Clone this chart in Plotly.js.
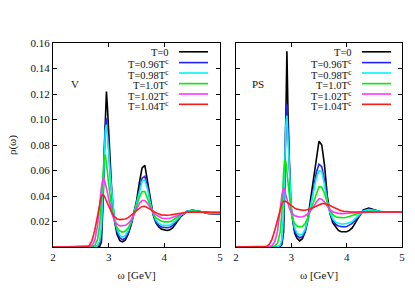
<!DOCTYPE html>
<html>
<head>
<meta charset="utf-8">
<script src="https://cdn.plot.ly/plotly-3.0.1.min.js"></script>
<style>html,body{margin:0;padding:0;background:#fff;}#chart{width:415px;height:291px;}</style>
</head>
<body>
<div id="chart"></div>
<script>
// Series labels and colours
const seriesNames = ["T=0", "T=0.96T<sup>c</sup>", "T=0.98T<sup>c</sup>", "T=1.0T<sup>c</sup>", "T=1.02T<sup>c</sup>", "T=1.04T<sup>c</sup>"];
const seriesColors = ["#000000", "#2222ff", "#00f4f4", "#00ee00", "#ff33ff", "#ff1a1a"];

// Vector channel (left panel)
const omegaV = [2.0,2.5,2.6,2.65,2.7,2.75,2.8,
  2.84,2.87,2.9,2.92,2.94,2.96,2.98,
  3.0,3.03,3.06,3.1,
  3.15,3.2,3.25,3.3,3.35,3.4,3.45,3.5,3.55,3.6,3.65,3.7,3.75,3.8,3.85,3.9,3.95,4.0,4.05,4.1,4.15,4.2,
  4.3,4.4,4.5,4.6,4.7,4.8,5.0];
const rhoV_T0 = [0,0,0,0,0,0,0,
  0.0005,0.004,0.035,0.075,0.110,0.122,0.108,
  0.088,0.060,0.040,0.022,
  0.010,0.005,0.004,0.0055,0.010,0.017,0.026,0.036,0.050,0.062,0.064,0.051,0.035,0.025,0.019,0.0158,0.014,0.0132,0.013,0.0135,0.015,0.018,
  0.024,0.0278,0.0288,0.0282,0.027,0.0262,0.026];
const rhoV_T096 = [0,0,0,0,0,0,0.0005,
  0.003,0.012,0.042,0.072,0.095,0.101,0.092,
  0.077,0.055,0.038,0.022,
  0.012,0.0072,0.0057,0.007,0.011,0.017,0.025,0.034,0.045,0.054,0.0555,0.047,0.035,0.026,0.020,0.017,0.0157,0.0152,0.0151,0.0155,0.017,0.0195,
  0.0245,0.0278,0.0287,0.0282,0.0272,0.0265,0.0262];
const rhoV_T098 = [0,0,0,0,0,0,0.001,
  0.005,0.016,0.046,0.073,0.091,0.096,0.088,
  0.075,0.055,0.039,0.024,
  0.014,0.0093,0.0078,0.009,0.013,0.019,0.026,0.034,0.044,0.0515,0.0525,0.045,0.034,0.026,0.021,0.0185,0.0173,0.0169,0.0168,0.0172,0.0185,0.0205,
  0.025,0.0278,0.0285,0.028,0.0272,0.0266,0.0263];
const rhoV_T100 = [0,0,0,0,0,0.001,0.006,
  0.018,0.037,0.061,0.071,0.0725,0.067,0.058,
  0.049,0.038,0.029,0.021,
  0.015,0.0125,0.0117,0.0125,0.015,0.019,0.025,0.032,0.039,0.0435,0.0435,0.038,0.031,0.026,0.023,0.0213,0.0202,0.0197,0.0196,0.0199,0.021,0.0225,
  0.0255,0.0275,0.0282,0.028,0.0274,0.027,0.0268];
const rhoV_T102 = [0,0,0,0,0.001,0.005,0.017,
  0.033,0.047,0.0535,0.053,0.050,0.046,0.041,
  0.037,0.031,0.026,0.021,
  0.018,0.0166,0.0165,0.017,0.0185,0.021,0.025,0.029,0.034,0.0365,0.0365,0.034,0.030,0.027,0.0252,0.0238,0.0228,0.0224,0.0223,0.0226,0.0233,0.0242,
  0.026,0.0272,0.0278,0.0278,0.0275,0.0272,0.027];
const rhoV_T104 = [0,0,0,0.001,0.005,0.013,0.025,
  0.035,0.040,0.041,0.040,0.038,0.036,0.034,
  0.032,0.029,0.0265,0.024,
  0.022,0.0215,0.0215,0.022,0.023,0.0245,0.0265,0.0285,0.0305,0.0318,0.032,0.031,0.0295,0.028,0.0268,0.0258,0.0252,0.0249,0.0249,0.0251,0.0255,0.026,
  0.0267,0.0272,0.0274,0.0274,0.0274,0.0273,0.0272];

// Pseudoscalar channel (right panel)
const omegaPS = [2.0,2.5,2.55,2.6,2.65,2.7,2.75,2.8,
  2.83,2.86,2.88,2.9,2.92,2.94,2.96,2.98,
  3.0,3.03,3.06,3.1,
  3.15,3.2,3.25,3.3,3.35,3.4,3.45,3.5,3.55,3.6,3.65,3.7,3.75,3.8,3.85,3.9,3.95,4.0,4.05,4.1,
  4.2,4.3,4.4,4.5,4.6,4.7,4.8,5.0];
const rhoPS_T0 = [0,0,0,0,0,0,0,0.0003,
  0.002,0.012,0.045,0.110,0.1535,0.105,0.068,0.043,
  0.030,0.018,0.011,0.007,
  0.0048,0.0065,0.012,0.023,0.038,0.055,0.072,0.083,0.080,0.064,0.040,0.026,0.019,0.0155,0.013,0.012,0.0118,0.012,0.013,0.015,
  0.022,0.029,0.0305,0.029,0.0278,0.0275,0.0275,0.0275];
const rhoPS_T096 = [0,0,0,0,0,0,0,0.0008,
  0.004,0.022,0.060,0.100,0.112,0.088,0.062,0.042,
  0.029,0.019,0.013,0.009,
  0.0072,0.008,0.012,0.021,0.032,0.045,0.058,0.065,0.063,0.052,0.037,0.027,0.021,0.0178,0.0165,0.0158,0.0157,0.016,0.017,0.0185,
  0.023,0.0285,0.0298,0.0288,0.0278,0.0275,0.0275,0.0275];
const rhoPS_T098 = [0,0,0,0,0,0,0,0.0015,
  0.006,0.027,0.063,0.095,0.103,0.083,0.060,0.042,
  0.030,0.021,0.015,0.011,
  0.0095,0.010,0.014,0.022,0.032,0.043,0.054,0.060,0.059,0.049,0.036,0.027,0.022,0.0195,0.0185,0.018,0.018,0.0183,0.019,0.020,
  0.024,0.0283,0.0293,0.0285,0.0278,0.0275,0.0275,0.0275];
const rhoPS_T100 = [0,0,0,0,0,0.0007,0.003,0.012,
  0.028,0.058,0.069,0.067,0.058,0.047,0.038,0.031,
  0.026,0.021,0.0185,0.0165,
  0.0157,0.016,0.0185,0.023,0.029,0.036,0.0425,0.0472,0.047,0.042,0.035,0.029,0.0255,0.0238,0.0232,0.023,0.023,0.0233,0.024,0.0245,
  0.026,0.0275,0.028,0.0278,0.0276,0.0275,0.0275,0.0275];
const rhoPS_T102 = [0,0,0,0.0003,0.001,0.004,0.012,0.030,
  0.041,0.0465,0.045,0.041,0.037,0.0335,0.031,0.029,
  0.0272,0.0255,0.0245,0.0238,
  0.0235,0.0237,0.0245,0.026,0.0285,0.0315,0.0352,0.0378,0.0375,0.0355,0.032,0.0293,0.0277,0.0268,0.0264,0.0262,0.0262,0.0263,0.0265,0.0267,
  0.027,0.0273,0.0275,0.0275,0.0275,0.0275,0.0275,0.0275];
const rhoPS_T104 = [0,0,0.0005,0.002,0.006,0.013,0.022,0.030,
  0.034,0.0358,0.036,0.0358,0.0352,0.0345,0.0337,0.033,
  0.0322,0.0313,0.0305,0.0297,
  0.0291,0.0288,0.0288,0.0292,0.030,0.031,0.0322,0.0333,0.034,0.034,0.0335,0.0325,0.0313,0.0302,0.0293,0.0285,0.028,0.0277,0.0275,0.0275,
  0.0275,0.0275,0.0275,0.0275,0.0275,0.0275,0.0275,0.0275];

// Axis ticks
const yTickVals = [0.02,0.04,0.06,0.08,0.10,0.12,0.14,0.16];
const yTickText = ["0.02","0.04","0.06","0.08","0.10","0.12","0.14","0.16"];
const xTickVals = [2,3,4,5];
const panelLabels = ["V","PS"];

const seriesV = [rhoV_T0, rhoV_T096, rhoV_T098, rhoV_T100, rhoV_T102, rhoV_T104];
const seriesPS = [rhoPS_T0, rhoPS_T096, rhoPS_T098, rhoPS_T100, rhoPS_T102, rhoPS_T104];

const FONT = "Liberation Serif, Times New Roman, serif";
const traces = [];
seriesV.forEach((ys, i) => traces.push({
  x: omegaV, y: ys, type: "scatter", mode: "lines", name: seriesNames[i],
  line: {color: seriesColors[i], width: 1.6}, xaxis: "x", yaxis: "y", showlegend: false
}));
seriesPS.forEach((ys, i) => traces.push({
  x: omegaPS, y: ys, type: "scatter", mode: "lines", name: seriesNames[i],
  line: {color: seriesColors[i], width: 1.6}, xaxis: "x2", yaxis: "y2", showlegend: false
}));

// geometry (pixels)
const W = 415, H = 291;
const mL = 53, mR = 13, mT = 43, mB = 44;
const pw = W - mL - mR, ph = H - mT - mB;
const leftPanel = [53, 220], rightPanel = [236, 402];
const dom = p => [(p[0]-mL)/pw, (p[1]-mL)/pw];

const axisCommon = {
  showline: true, linecolor: "#000", linewidth: 1, mirror: "ticks",
  ticks: "inside", ticklen: 4, tickcolor: "#000", tickwidth: 1,
  showgrid: false, zeroline: false,
  tickfont: {family: FONT, size: 11, color: "#111"}
};
const xAxisBase = Object.assign({}, axisCommon, {
  range: [2,5], tickvals: xTickVals, ticktext: xTickVals.map(String),
  title: {text: "ω [GeV]", font: {family: FONT, size: 11, color: "#111"}, standoff: 9}
});

// legend (drawn as annotations + short line samples in paper space)
const annotations = [], shapes = [];
const rowY = [51.8, 62.6, 73.0, 83.6, 94.0, 104.3];
[leftPanel, rightPanel].forEach((p, k) => {
  const px = v => (v - mL) / pw;
  const py = v => 1 - (v - mT) / ph;
  seriesNames.forEach((nm, i) => {
    annotations.push({xref: "paper", yref: "paper", x: px(p[0] + 118), y: py(rowY[i] + 1),
      text: nm, showarrow: false, xanchor: "right", yanchor: "middle",
      font: {family: FONT, size: 10.5, color: "#111"}});
    shapes.push({type: "line", xref: "paper", yref: "paper",
      x0: px(p[0] + 126), x1: px(p[0] + 155), y0: py(rowY[i]), y1: py(rowY[i]),
      line: {color: seriesColors[i], width: 1.6}});
  });
  annotations.push({xref: "paper", yref: "paper", x: px(p[0] + 22), y: py(84),
    text: panelLabels[k], showarrow: false, xanchor: "center", yanchor: "middle",
    font: {family: FONT, size: 11, color: "#111"}});
});

const layout = {
  width: W, height: H,
  margin: {l: mL, r: mR, t: mT, b: mB},
  paper_bgcolor: "#fff", plot_bgcolor: "#fff",
  showlegend: false,
  font: {family: FONT, size: 11, color: "#111"},
  xaxis: Object.assign({}, xAxisBase, {domain: dom(leftPanel), anchor: "y"}),
  xaxis2: Object.assign({}, xAxisBase, {domain: dom(rightPanel), anchor: "y2"}),
  yaxis: Object.assign({}, axisCommon, {domain: [0,1], range: [0,0.16], anchor: "x",
    tickvals: yTickVals, ticktext: yTickText,
    title: {text: "ρ(ω)", font: {family: FONT, size: 11, color: "#111"}, standoff: 11}}),
  yaxis2: Object.assign({}, axisCommon, {domain: [0,1], range: [0,0.16], anchor: "x2",
    tickvals: yTickVals, showticklabels: false}),
  annotations: annotations, shapes: shapes
};

Plotly.newPlot("chart", traces, layout, {displayModeBar: false, staticPlot: true});
</script>
</body>
</html>
